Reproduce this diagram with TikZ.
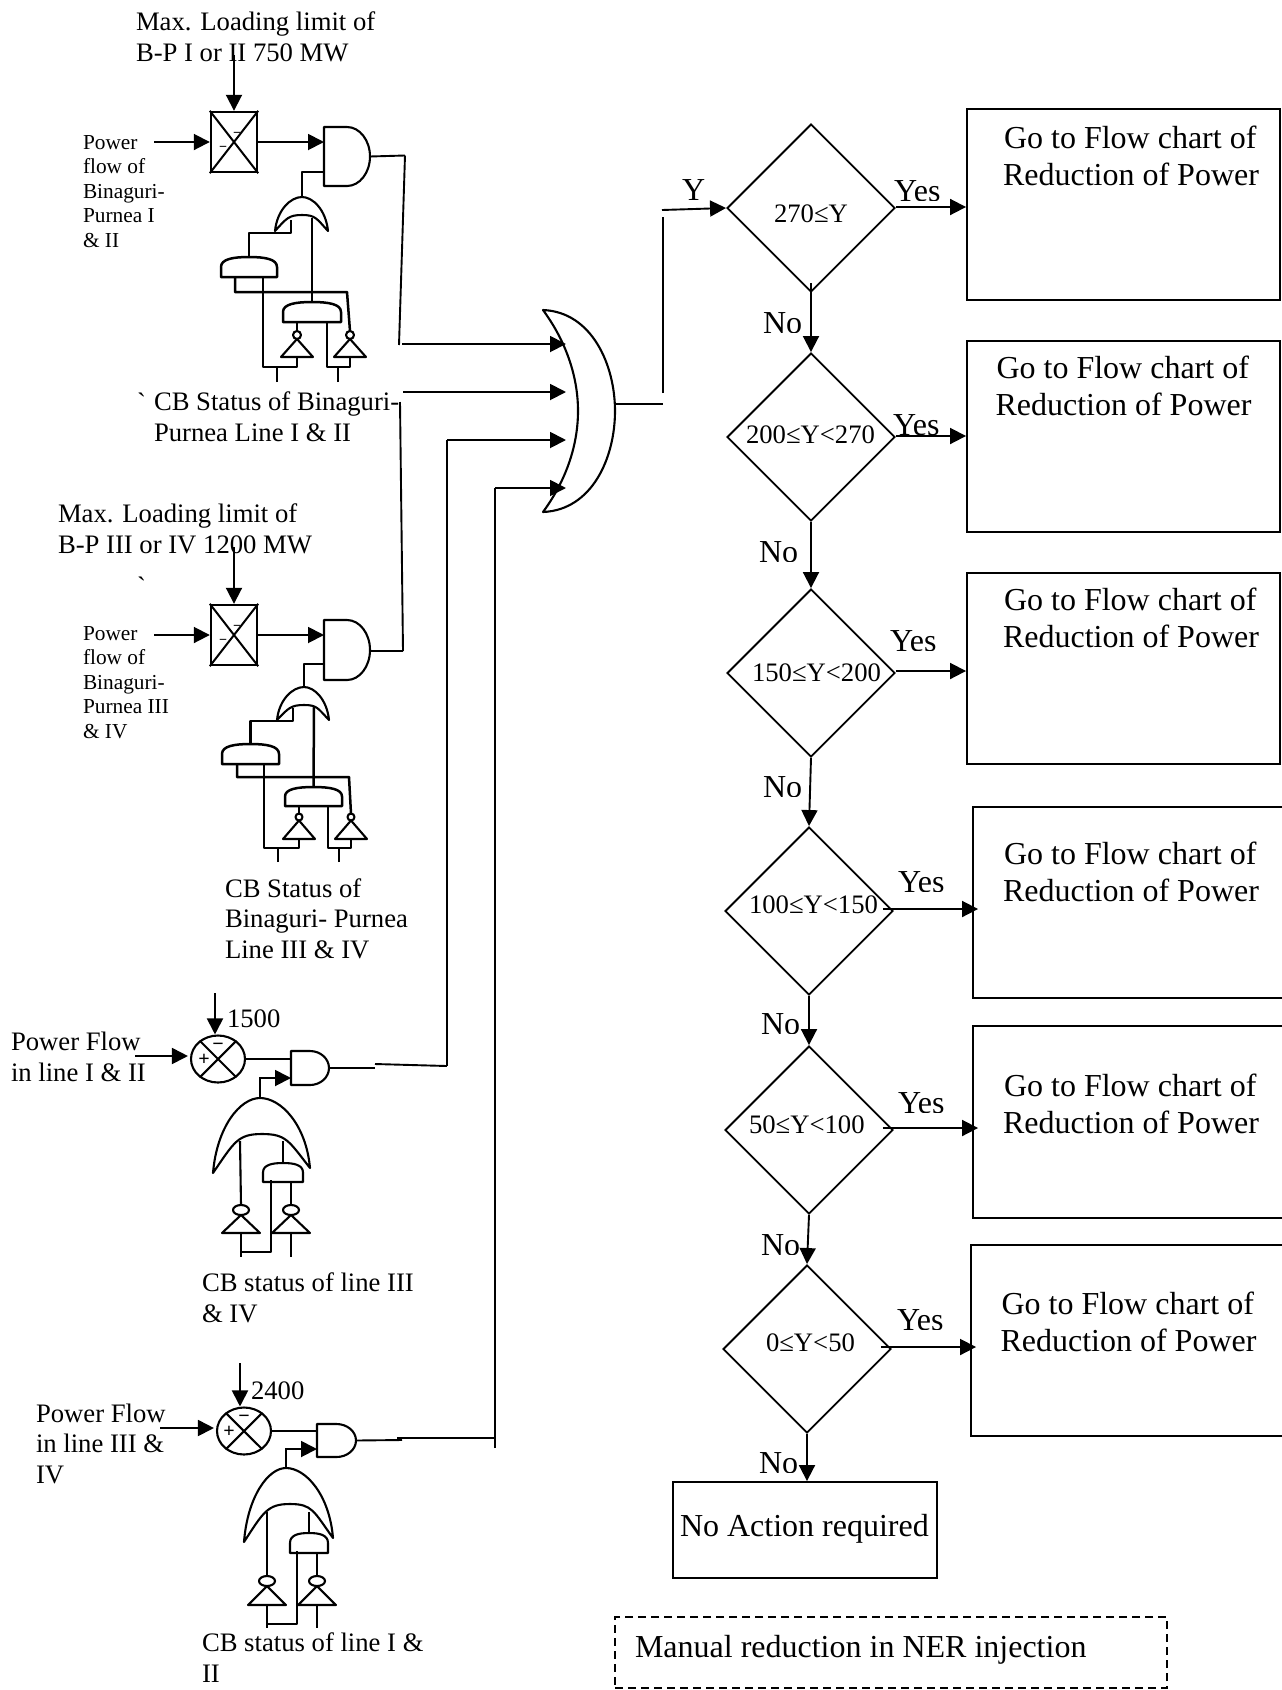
\documentclass[tikz,border=0pt]{standalone}
\usepackage{fontspec}
\setmainfont{Liberation Serif}
\newfontfamily\rawserif{Liberation Serif}
\usetikzlibrary{arrows.meta,shapes.geometric,calc}
\newcommand\fA{\fontsize{26.67}{30.5}\selectfont}
\newcommand\fB{\fontsize{21.33}{24.5}\selectfont}
\newcommand\fC{\fontsize{32}{37}\selectfont}
\tikzset{
  x=1pt,y=-1pt,
  wire/.style={line width=1.9pt,line join=miter},
  gate/.style={line width=2.1pt,line join=round},
  thickgate/.style={line width=2.5pt,line join=round},
  arr/.style={wire,-{Triangle[length=16pt,width=16pt]}},
  txt/.style={anchor=base west,inner sep=0pt,outer sep=0pt,align=left},
  cmpbox/.style={draw,rectangle,line width=2.4pt,minimum width=46pt,minimum height=60pt,inner sep=0pt},
  cmpell/.style={draw,ellipse,line width=2.1pt,minimum width=54pt,minimum height=47pt,inner sep=0pt},
  dia/.style={draw,diamond,line width=1.9pt,aspect=1,inner sep=0pt,minimum width=168pt,minimum height=168pt},
  flowbox/.style={draw,rectangle,line width=1.9pt,inner sep=0pt},
  signmark/.style={anchor=center,inner sep=0pt},
}
% horizontal AND gate: #1 name, #2 xl, #3 xr, #4 ytop, #5 ybottom, #6 style
\newcommand\AndH[6]{%
  \draw[#6] (#2,#4) -- ({(#2+#3)/2},#4)
    .. controls ({(#2+#3)/2+0.275*(#3-#2)},#4) and (#3,{#4+0.225*(#5-#4)}) .. (#3,{(#4+#5)/2})
    .. controls (#3,{#5-0.225*(#5-#4)}) and ({(#2+#3)/2+0.275*(#3-#2)},#5) .. ({(#2+#3)/2},#5)
    -- (#2,#5) -- cycle;
  \coordinate (#1-o) at (#3,{(#4+#5)/2});
}
% upward flat AND gate
\newcommand\AndU[6]{%
  \draw[#6] (#2,#5) -- (#3,#5) -- (#3,{#4+0.5*(#5-#4)})
    .. controls (#3,{#4+0.1*(#5-#4)}) and ({#3-0.22*(#3-#2)},#4) .. ({(#2+#3)/2},#4)
    .. controls ({#2+0.22*(#3-#2)},#4) and (#2,{#4+0.1*(#5-#4)}) .. (#2,{#4+0.5*(#5-#4)})
    -- cycle;
  \coordinate (#1-t) at ({(#2+#3)/2},#4);
}
% upward OR gate: #1 name; #2,#3 left tip; #4,#5 right tip; #6,#7 apex; #8,#9 inner peak
\newcommand\OrU[9]{%
  \draw[gate] (#2,#3)
    .. controls ({#2+0.04*(#4-#2)},{#3-0.62*(#3-#7)}) and ({#6-0.42*(#6-#2)},#7) .. (#6,#7)
    .. controls ({#6+0.42*(#4-#6)},#7) and ({#4-0.04*(#4-#2)},{#5-0.62*(#5-#7)}) .. (#4,#5)
    .. controls ({#4-0.22*(#4-#2)},{#9+0.2*(#5-#9)}) and ({#8+0.25*(#4-#2)},#9) .. (#8,#9)
    .. controls ({#8-0.25*(#4-#2)},#9) and ({#2+0.22*(#4-#2)},{#9+0.2*(#3-#9)}) .. (#2,#3) -- cycle;
  \coordinate (#1-o) at (#6,#7);
}
% inverter, apex up: #1 name, #2 x, #3 bubble y, #4 base y, #5 half width, #6 rx, #7 ry
\newcommand\InvU[7]{%
  \draw[gate] (#2,#3) ellipse[x radius=#6,y radius=#7];
  \draw[gate] (#2,{#3+#7}) -- ({#2+#5},#4) -- ({#2-#5},#4) -- cycle;
  \coordinate (#1-o) at (#2,{#3-#7});
  \coordinate (#1-i) at (#2,#4);
}
% clipped label: #1 name, #2 x, #3 baseline, #4 text
\newcommand\CutLab[4]{%
  \begin{scope}
    \clip ({#2-3},{#3-40}) rectangle ({#2+60},{#3-0.5});
    \node[txt,font=\fC] (#1) at (#2,#3) {#4};
  \end{scope}
}
\newcommand\TwoLine[2]{\vbox{\hbox{#1}\hbox{#2}}}
\begin{document}
\begin{tikzpicture}
\useasboundingbox (0,0) rectangle (1282,1690);

% ---------- labels (first, so connectors lie above them)
\node[txt,font=\fA] (tA) at (136,61) {\TwoLine{Max. Loading limit of}{B-P I or II 750 MW}};
\node[txt,font=\fB] (pA) at (83,247) {\vbox{\hbox{Power}\hbox{flow of}\hbox{Binaguri-}\hbox{Purnea I}\hbox{\& II}}};
\node[txt,font=\fA] (gA) at (137,411) {\rawserif\char96};
\node[txt,font=\fA] (cA) at (154,441) {\TwoLine{CB Status of Binaguri-}{Purnea Line I \& II}};
\node[txt,font=\fA] (tB) at (58,553) {\TwoLine{Max. Loading limit of}{B-P III or IV 1200 MW}};
\node[txt,font=\fA] (gB) at (137,595) {\rawserif\char96};
\node[txt,font=\fB] (pB) at (83,738) {\vbox{\hbox{Power}\hbox{flow of}\hbox{Binaguri-}\hbox{Purnea III}\hbox{\& IV}}};
\node[txt,font=\fA] (cB) at (225,958) {\vbox{\hbox{CB Status of}\hbox{Binaguri- Purnea}\hbox{Line III \& IV}}};
\node[txt,font=\fA] (vC) at (227,1027) {1500};
\node[txt,font=\fA] (pC) at (11,1081) {\TwoLine{Power Flow}{in line I \& II}};
\node[txt,font=\fA] (cC) at (202,1322) {\TwoLine{CB status of line III}{\& IV}};
\node[txt,font=\fA] (vD) at (251,1399) {2400};
\node[txt,font=\fA] (pD) at (36,1483) {\vbox{\hbox{Power Flow}\hbox{in line III \&}\hbox{IV}}};
\node[txt,font=\fA] (cD) at (202,1682) {\TwoLine{CB status of line I \&}{II}};

\node[txt,font=\fC] (ly) at (682,200) {Y};
\CutLab{yes1}{894}{201}{Yes}
\CutLab{yes2}{893}{435}{Yes}
\CutLab{yes3}{890}{651}{Yes}
\CutLab{yes4}{898}{892}{Yes}
\CutLab{yes5}{898}{1113}{Yes}
\CutLab{yes6}{897}{1330}{Yes}
\CutLab{no1}{763}{333}{No}
\CutLab{no2}{759}{562}{No}
\CutLab{no3}{763}{797}{No}
\CutLab{no4}{761}{1034}{No}
\CutLab{no5}{761}{1255}{No}
\CutLab{no6}{759}{1473}{No}

% ---------- flow chart nodes
\node[dia] (d1) at (811,208) {};
\node[dia] (d2) at (811,437) {};
\node[dia] (d3) at (811,673) {};
\node[dia] (d4) at (809,911) {};
\node[dia] (d5) at (809,1130) {};
\node[dia] (d6) at (807,1349) {};
\node[txt,font=\fA] (d1t) at (774,222) {270≤Y};
\node[txt,font=\fA] (d2t) at (746,443) {200≤Y<270};
\node[txt,font=\fA] (d3t) at (752,681) {150≤Y<200};
\node[txt,font=\fA] (d4t) at (749,913) {100≤Y<150};
\node[txt,font=\fA] (d5t) at (749,1133) {50≤Y<100};
\node[txt,font=\fA] (d6t) at (766,1351) {0≤Y<50};

\node[flowbox,minimum width=313pt,minimum height=191pt] (b1) at (1123.5,204.5) {};
\node[flowbox,minimum width=313pt,minimum height=191pt] (b2) at (1123.5,436.5) {};
\node[flowbox,minimum width=313pt,minimum height=191pt] (b3) at (1123.5,668.5) {};
\node[flowbox,minimum width=327pt,minimum height=191pt] (b4) at (1136.5,902.5) {};
\node[flowbox,minimum width=327pt,minimum height=192pt] (b5) at (1136.5,1122) {};
\node[flowbox,minimum width=329pt,minimum height=191pt] (b6) at (1135.5,1340.5) {};
\node[flowbox,minimum width=264pt,minimum height=96pt] (bn) at (805,1530) {};
\node[flowbox,dash pattern=on 8pt off 5pt,minimum width=552pt,minimum height=71pt] (bm) at (891,1652.5) {};

\node[txt,font=\fC] (b1t) at (1003,185) {\TwoLine{\hspace{1pt}Go to Flow chart of}{Reduction of Power}};
\node[txt,font=\fC] (b2t) at (995.5,415) {\TwoLine{\hspace{1pt}Go to Flow chart of}{Reduction of Power}};
\node[txt,font=\fC] (b3t) at (1003,647) {\TwoLine{\hspace{1pt}Go to Flow chart of}{Reduction of Power}};
\node[txt,font=\fC] (b4t) at (1003,901) {\TwoLine{\hspace{1pt}Go to Flow chart of}{Reduction of Power}};
\node[txt,font=\fC] (b5t) at (1003,1133) {\TwoLine{\hspace{1pt}Go to Flow chart of}{Reduction of Power}};
\node[txt,font=\fC] (b6t) at (1000.5,1351) {\TwoLine{\hspace{1pt}Go to Flow chart of}{Reduction of Power}};
\node[txt,font=\fC] (bnt) at (680,1536) {No Action required};
\node[txt,font=\fC] (bmt) at (635,1657) {Manual reduction in NER injection};

% flow connectors
\draw[arr,shorten <=-10pt] (d1.south) -- (d2.north);
\draw[arr] (d2.south) -- (d3.north);
\draw[arr] (d3.south) -- (d4.north);
\draw[arr] (d4.south) -- (d5.north);
\draw[arr] (d5.south) -- (d6.north);
\draw[arr] (d6.south) -- (bn.north -| d6.south);
\draw[arr] ([yshift=1pt]d1.east) -- ([yshift=1pt]d1.east -| b1.west);
\draw[arr] ([yshift=1pt]d2.east) -- ([yshift=1pt]d2.east -| b2.west);
\draw[arr] ([yshift=2pt]d3.east) -- ([yshift=2pt]d3.east -| b3.west);
\draw[arr,shorten <=-11pt,shorten >=-6pt] ([yshift=2pt]d4.east) -- ([yshift=2pt]d4.east -| b4.west);
\draw[arr,shorten <=-11pt,shorten >=-6pt] ([yshift=2pt]d5.east) -- ([yshift=2pt]d5.east -| b5.west);
\draw[arr,shorten <=-11pt,shorten >=-6pt] ([yshift=2pt]d6.east) -- ([yshift=2pt]d6.east -| b6.west);

% ---------- big OR gate
\draw[gate] (543,310) .. controls (592,312) and (615,365) .. (615,411)
  .. controls (615,458) and (592,510) .. (543,512)
  .. controls (565,482) and (578,447) .. (578,411)
  .. controls (578,375) and (565,340) .. (543,310) -- cycle;
\coordinate (m1) at (566,344);
\coordinate (m2) at (566,392);
\coordinate (m3) at (566,440);
\coordinate (m4) at (566,488);
\coordinate (mo) at (615,404);
\coordinate (r1) at (663,404);
\coordinate (r2) at (663,393);
\coordinate (r3) at (663,217);
\coordinate (r4) at (662,210);
\draw[wire] (mo) -- (r1);
\draw[wire] (r2) -- (r3);
\draw[arr] (r4) -- (d1.west);

% ---------- section A
\node[cmpbox] (cA1) at (234,142) {};
\draw[line width=2pt] (cA1.north west) -- (cA1.south east) (cA1.north east) -- (cA1.south west);
\node[signmark,font=\bfseries\fontsize{14}{14}\selectfont] (mA1) at (237,135) {−};
\node[signmark,font=\bfseries\fontsize{14}{14}\selectfont] (mA2) at (223,149) {−};
\coordinate (limA) at (234,55);
\coordinate (pwA) at (154,142);
\draw[arr] (limA) -- (cA1.north);
\draw[arr] (pwA) -- (cA1.west);
\AndH{aA}{324}{370}{127}{186}{gate}
\coordinate (aAi1) at (324,142);
\coordinate (aAi2) at (324,172);
\draw[arr] (cA1.east) -- (aAi1);
\OrU{oA}{275}{231}{328}{231}{302}{197}{302}{215}
\draw[thickgate] (oA-o) |- (aAi2);
\coordinate (jA1) at (405,155.5);
\coordinate (jA2) at (399,345);
\coordinate (jA3) at (402,344);
\draw[wire] (aA-o) -- (jA1);
\draw[wire] (jA1) -- (jA2);
\draw[arr] (jA3) -- (m1);
\AndU{uA1}{221}{277}{257}{277}{thickgate}
\AndU{uA2}{283}{341}{302}{322}{thickgate}
\InvU{iA1}{297}{335}{357}{16}{4}{4}
\InvU{iA2}{350}{335}{357}{16}{4}{4}
\coordinate (oAa) at (291,220);
\coordinate (oAb) at (312,218);
\coordinate (uA1a) at (235,277);
\coordinate (uA1b) at (263,277);
\coordinate (uA2a) at (297,322);
\coordinate (uA2b) at (327,322);
\coordinate (sA1) at (277,382);
\coordinate (sA2) at (338,382);
\draw[thickgate] (oAa) -- ++(0,13) -| (uA1-t);
\draw[thickgate] (oAb) -- (uA2-t);
\draw[thickgate] (uA1a) -- ++(0,15) -- ++(112,0) -- (iA2-o);
\draw[thickgate] (uA1b) -- ++(0,90) -| (iA1-i);
\draw[thickgate] (uA2a) -- (iA1-o);
\draw[thickgate] (uA2b) -- ++(0,45) -| (iA2-i);
\draw[thickgate] (sA1) -- ++(0,-15);
\draw[thickgate] (sA2) -- ++(0,-15);

% ---------- second OR-input wire
\coordinate (jB0) at (403,392);
\coordinate (jB1) at (400,402);
\coordinate (jB2) at (403,651);
\draw[arr] (jB0) -- (m2);
\draw[wire] (jB1) -- (jB2);

% ---------- section B
\node[cmpbox] (cB1) at (234,635) {};
\draw[line width=2pt] (cB1.north west) -- (cB1.south east) (cB1.north east) -- (cB1.south west);
\node[signmark,font=\bfseries\fontsize{14}{14}\selectfont] (mB1) at (237,628) {−};
\node[signmark,font=\bfseries\fontsize{14}{14}\selectfont] (mB2) at (223,642) {−};
\coordinate (limB) at (234,547);
\coordinate (pwB) at (154,635);
\draw[arr] (limB) -- (cB1.north);
\draw[arr] (pwB) -- (cB1.west);
\AndH{aB}{324}{370}{620}{680}{gate}
\coordinate (aBi1) at (324,635);
\coordinate (aBi2) at (324,664);
\draw[arr] (cB1.east) -- (aBi1);
\OrU{oB}{277}{720}{329}{720}{304}{687}{304}{705}
\draw[thickgate] (oB-o) |- (aBi2);
\draw[wire] (aB-o |- jB2) -- (jB2);
\AndU{uB1}{222}{279}{744}{764}{thickgate}
\AndU{uB2}{285}{342}{787}{806}{thickgate}
\InvU{iB1}{299}{817}{839}{16}{3.5}{3.5}
\InvU{iB2}{351}{817}{839}{16}{3.5}{3.5}
\coordinate (oBa) at (293,708);
\coordinate (oBb) at (314,707);
\coordinate (uB1a) at (237,764);
\coordinate (uB1b) at (264,764);
\coordinate (uB2a) at (299,806);
\coordinate (uB2b) at (328,806);
\coordinate (sB1) at (278,862);
\coordinate (sB2) at (339,862);
\draw[thickgate] (oBa) -- ++(0,13) -| (uB1-t);
\draw[thickgate] (oBb) -- (uB2-t);
\draw[thickgate] (uB1a) -- ++(0,13) -- ++(112,0) -- (iB2-o);
\draw[thickgate] (uB1b) -- ++(0,84) -| (iB1-i);
\draw[thickgate] (uB2a) -- (iB1-o);
\draw[thickgate] (uB2b) -- ++(0,42) -| (iB2-i);
\draw[thickgate] (sB1) -- ++(0,-14);
\draw[thickgate] (sB2) -- ++(0,-14);

% ---------- section C
\node[cmpell] (cC1) at (218,1059) {};
\draw[gate] (cC1.45) -- (cC1.225) (cC1.135) -- (cC1.315);
\node[signmark,font=\bfseries\fontsize{20}{20}\selectfont] (mC) at (218,1047) {−};
\node[signmark,font=\bfseries\fontsize{20}{20}\selectfont] (plC) at (204,1060) {+};
\coordinate (limC) at (215,993);
\coordinate (pwC) at (135,1056);
\draw[arr] (limC) -- (limC |- cC1.north);
\draw[arr] (pwC) -- ([xshift=-2pt]cC1.west |- pwC);
\AndH{aC}{291}{329}{1051}{1085}{gate}
\coordinate (aCi1) at (291,1059);
\coordinate (aCi2) at (291,1078);
\draw[wire] (cC1.east) -- (aCi1);
\OrU{oC}{213}{1173}{310}{1168}{260}{1098}{262}{1134}
\draw[arr] (oC-o) |- (aCi2);
\coordinate (jC1) at (375,1068);
\coordinate (jC2) at (375,1064);
\coordinate (jC3) at (447,1066);
\draw[wire] (aC-o) -- (jC1);
\draw[wire] (jC2) -- (jC3);
\coordinate (jC4) at (447,440);
\draw[wire] (jC3) -- (jC4);
\draw[arr] (jC4) -- (m3);
\AndU{uC}{263}{303}{1163}{1182}{gate}
\InvU{iC1}{241}{1210}{1233}{19}{8}{5}
\InvU{iC2}{291}{1210}{1233}{19}{8}{5}
\coordinate (oCa) at (240,1141);
\coordinate (oCb) at (283,1141);
\coordinate (uCa) at (271,1180);
\coordinate (uCb) at (291,1182);
\coordinate (sC1) at (241,1257);
\coordinate (sC2) at (291,1257);
\coordinate (kC) at (241,1252);
\draw[gate] (oCa) -- (iC1-o);
\draw[gate] (oCb) -- (uC-t);
\draw[gate] (uCa) |- (kC);
\draw[gate] (uCb) -- (iC2-o);
\draw[gate] (iC1-i) -- (sC1);
\draw[gate] (iC2-i) -- (sC2);

% ---------- section D
\node[cmpell] (cD1) at (244,1431) {};
\draw[gate] (cD1.45) -- (cD1.225) (cD1.135) -- (cD1.315);
\node[signmark,font=\bfseries\fontsize{20}{20}\selectfont] (mD) at (244,1419) {−};
\node[signmark,font=\bfseries\fontsize{20}{20}\selectfont] (plD) at (229,1432) {+};
\coordinate (limD) at (240,1363);
\coordinate (pwD) at (160,1428);
\draw[arr] (limD) -- (limD |- cD1.north);
\draw[arr] (pwD) -- ([xshift=-2pt]cD1.west |- pwD);
\AndH{aD}{317}{356}{1424}{1457}{gate}
\coordinate (aDi1) at (317,1431);
\coordinate (aDi2) at (317,1449);
\draw[wire] (cD1.east) -- (aDi1);
\OrU{oD}{244}{1542}{333}{1538}{286}{1468}{290}{1504}
\draw[arr] (oD-o) |- (aDi2);
\coordinate (jD1) at (402,1440);
\coordinate (jD2) at (397,1438);
\coordinate (jD3) at (495,1438);
\coordinate (jD4) at (495,1448);
\coordinate (jD5) at (495,488);
\draw[wire] (aD-o) -- (jD1);
\draw[wire] (jD2) -- (jD3);
\draw[wire] (jD4) -- (jD5);
\draw[arr] (jD5) -- (m4);
\AndU{uD}{290}{328}{1533}{1553}{gate}
\InvU{iD1}{267}{1581}{1605}{19}{8}{5}
\InvU{iD2}{317}{1581}{1605}{19}{8}{5}
\coordinate (oDa) at (267,1512);
\coordinate (oDb) at (309,1512);
\coordinate (uDa) at (297,1551);
\coordinate (uDb) at (317,1553);
\coordinate (sD1) at (267,1628);
\coordinate (sD2) at (317,1628);
\coordinate (kD) at (267,1624);
\draw[gate] (oDa) -- (iD1-o);
\draw[gate] (oDb) -- (uD-t);
\draw[gate] (uDa) |- (kD);
\draw[gate] (uDb) -- (iD2-o);
\draw[gate] (iD1-i) -- (sD1);
\draw[gate] (iD2-i) -- (sD2);
\end{tikzpicture}
\end{document}
